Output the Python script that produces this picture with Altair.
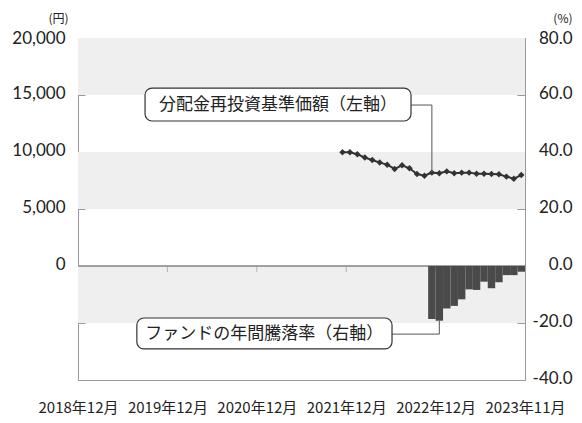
import altair as alt
import pandas as pd

# ---------------- data ----------------
tick_idx = [0, 12, 24, 36, 48, 60]
tick_labels = ["2018年12月", "2019年12月", "2020年12月", "2021年12月", "2022年12月", "2023年11月"]
inner_ticks = [12, 24, 36, 48]

nav_start = "2021-11"
nav_values = [9970, 9970, 9800, 9510, 9300, 9070, 8890, 8510, 8830, 8570, 8070, 7920, 8190,
              8130, 8300, 8130, 8190, 8190, 8100, 8100, 8070, 8040, 7840, 7660, 7980]

ret_start = "2022-11"
ret_values = [-18.6, -19.2, -14.9, -14.0, -11.7, -8.2, -8.4, -5.5, -7.8, -5.7, -3.2, -3.2, -2.0]

left_ticks = [-10000, -5000, 0, 5000, 10000, 15000, 20000]
right_ticks = [-40, -20, 0, 20, 40, 60, 80]
band_lo = [15000, 5000, -5000]
band_hi = [20000, 10000, 0]

label_nav = "分配金再投資基準価額（左軸）"
label_ret = "ファンドの年間騰落率（右軸）"


def midx(s):
    y, m = map(int, s.split("-"))
    return (y - 2018) * 12 + m - 12


nav_i0 = midx(nav_start)
nav_df = pd.DataFrame({"i": [nav_i0 + k for k in range(len(nav_values))], "v": nav_values})
nav_df["xc"] = nav_df["i"] + 0.5

ret_i0 = midx(ret_start)
ret_df = pd.DataFrame({"i": [ret_i0 + k for k in range(len(ret_values))], "p": ret_values})
ret_df["x0"] = ret_df["i"]
ret_df["x1"] = ret_df["i"] + 1
ret_df["zero"] = 0

band_df = pd.DataFrame({"lo": band_lo, "hi": band_hi})
tick_df = pd.DataFrame({"x": inner_ticks, "zero": [0] * len(inner_ticks)})

# annotation geometry (data units)
nav_target_i = 47
nav_target_v = nav_values[nav_target_i - nav_i0]
box1 = pd.DataFrame({"x": [9.0], "x2": [44.7], "y": [12720], "y2": [15610],
                     "tx": [26.85], "ty": [14165], "t": [label_nav]})
conn1 = pd.DataFrame({"x": [44.7, nav_target_i + 0.5], "x2": [nav_target_i + 0.5, nav_target_i + 0.5],
                      "y": [14120, 14120], "y2": [14120, nav_target_v]})

ret_target_i = 48
ret_target_p = ret_values[ret_target_i - ret_i0]
box2 = pd.DataFrame({"x": [7.9], "x2": [42.15], "y": [-29.1], "y2": [-18.25],
                     "tx": [25.0], "ty": [-23.7], "t": [label_ret]})
conn2 = pd.DataFrame({"x": [42.15, ret_target_i + 0.5], "x2": [ret_target_i + 0.5, ret_target_i + 0.5],
                      "y": [-23.9, -23.9], "y2": [-23.9, ret_target_p]})

# ---------------- styling ----------------
FONT_NUM = "Lato"
FONT_JP = "Noto Sans CJK JP"
GRID = "#9a9a9a"
TXT = "#222222"
DARK = "#333333"

xs = alt.Scale(domain=[0, 60], nice=False, zero=False)
yL = alt.Scale(domain=[-10000, 20000], nice=False, zero=False)
yR = alt.Scale(domain=[-40, 80], nice=False, zero=False)

x_expr = " : ".join(f"datum.value == {v} ? '{l}'" for v, l in zip(tick_idx, tick_labels)) + " : ''"
x_axis = alt.Axis(values=tick_idx, labelExpr=x_expr, ticks=False, domain=False, grid=False,
                  labelPadding=20, labelFont=FONT_JP, labelFontSize=15, labelColor=TXT,
                  labelFlush=False, labelOverlap=False, labelBound=False, title=None)

left_axis = alt.Axis(values=left_ticks, labelExpr="datum.value >= 0 ? format(datum.value, ',') : ''",
                     offset=-7, domain=False, grid=False, tickSize=7, tickColor=GRID, tickWidth=1,
                     labelPadding=13, labelFont=FONT_NUM, labelFontSize=17, labelColor=TXT,
                     labelOffset={"condition": {"test": f"datum.value == {max(left_ticks)}", "value": 0},
                                  "value": -2},
                     title="(円)", titleAngle=0, titleFont=FONT_JP, titleFontSize=12,
                     titleFontWeight="normal", titleColor=TXT, titleAlign="right",
                     titleBaseline="alphabetic", titleX=-17, titleY=-16)

right_axis = alt.Axis(values=right_ticks, orient="right",
                      labelExpr="datum.value < 0 ? '-' + format(abs(datum.value), '.1f') : format(datum.value, '.1f')",
                      offset=-8, domain=False, grid=False, tickSize=8, tickColor=GRID, tickWidth=1,
                      labelPadding=47, labelAlign="right", labelFont=FONT_NUM, labelFontSize=17,
                      labelColor=TXT,
                      labelOffset={"condition": {"test": f"datum.value == {max(right_ticks)}", "value": 0},
                                   "value": -2},
                      title="(%)", titleAngle=0, titleFont=FONT_JP, titleFontSize=12,
                      titleFontWeight="normal", titleColor=TXT, titleAlign="right",
                      titleBaseline="alphabetic", titleX=55, titleY=-16)


def X(f):
    return alt.X(f, scale=xs, axis=x_axis)


def YL(f):
    return alt.Y(f, scale=yL, axis=left_axis)


def YR(f):
    return alt.Y(f, scale=yR, axis=right_axis)


# ---------------- left group ----------------
bands = alt.Chart(band_df).mark_rect(color="#efefef").encode(y=YL("lo:Q"), y2="hi:Q")

zero = alt.Chart(tick_df).mark_rule(color=GRID, strokeWidth=1).encode(y=YL("zero:Q"))

xticks = alt.Chart(tick_df).mark_tick(orient="vertical", size=6, thickness=1, color=GRID, yOffset=3).encode(
    x=X("x:Q"), y=YL("zero:Q"))

line = alt.Chart(nav_df).mark_line(color=DARK, strokeWidth=2).encode(x=X("xc:Q"), y=YL("v:Q"))

pts = alt.Chart(nav_df).mark_point(shape="diamond", filled=True, size=42, color=DARK, opacity=1).encode(
    x=X("xc:Q"), y=YL("v:Q"))

c1 = alt.Chart(conn1).mark_rule(color="#555555", strokeWidth=1).encode(
    x=X("x:Q"), x2="x2:Q", y=YL("y:Q"), y2="y2:Q")

b1 = alt.Chart(box1).mark_rect(fill="white", stroke=DARK, strokeWidth=1.2, cornerRadius=7).encode(
    x=X("x:Q"), x2="x2:Q", y=YL("y:Q"), y2="y2:Q")

t1 = alt.Chart(box1).mark_text(font=FONT_JP, fontSize=17, color=TXT, baseline="middle", align="center").encode(
    x=X("tx:Q"), y=YL("ty:Q"), text="t:N")

left_group = alt.layer(bands, zero, xticks, line, pts, c1, b1, t1)

# ---------------- right group ----------------
bars = alt.Chart(ret_df).mark_rect(color="#4a4a4a").encode(
    x=X("x0:Q"), x2="x1:Q", y=YR("p:Q"), y2="zero:Q")

c2 = alt.Chart(conn2).mark_rule(color="#555555", strokeWidth=1).encode(
    x=X("x:Q"), x2="x2:Q", y=YR("y:Q"), y2="y2:Q")

b2 = alt.Chart(box2).mark_rect(fill="white", stroke=DARK, strokeWidth=1.2, cornerRadius=7).encode(
    x=X("x:Q"), x2="x2:Q", y=YR("y:Q"), y2="y2:Q")

t2 = alt.Chart(box2).mark_text(font=FONT_JP, fontSize=17, color=TXT, baseline="middle", align="center").encode(
    x=X("tx:Q"), y=YR("ty:Q"), text="t:N")

right_group = alt.layer(bars, c2, b2, t2)

chart = alt.layer(left_group, right_group).resolve_scale(y="independent").properties(
    width=447, height=342,
    autosize=alt.AutoSizeParams(type="none"),
    padding={"left": 70, "top": 30, "right": 48, "bottom": 38},
).configure_view(stroke=GRID, strokeWidth=1)

chart.save("out.html", embed_options={"renderer": "svg", "actions": False})
